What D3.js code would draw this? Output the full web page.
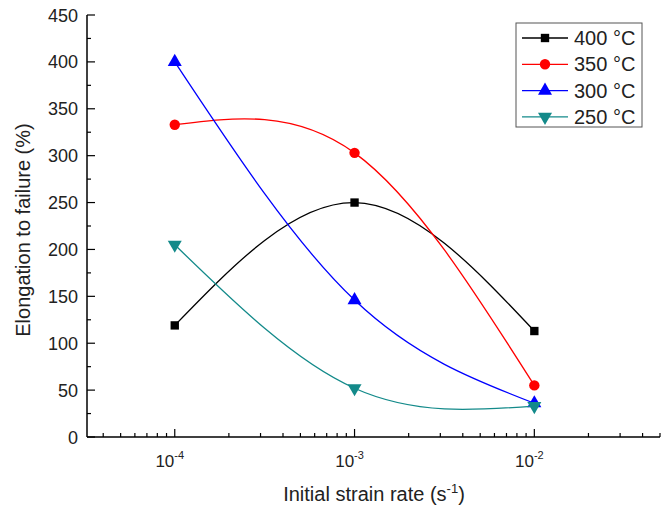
<!DOCTYPE html>
<html>
<head>
<meta charset="utf-8">
<script src="https://cdn.jsdelivr.net/npm/d3@7"></script>
<style>
  body { margin: 0; background: #fff; }
  text { font-family: "Liberation Sans", Arial, sans-serif; fill: #222; }
</style>
</head>
<body>
<script>
// strain rates (s^-1)
var rates = [1e-4, 1e-3, 1e-2];
var temps = ["400 °C", "350 °C", "300 °C", "250 °C"];
var elong400 = [119, 250, 113];
var elong350 = [333, 303, 55];
var elong300 = [400, 146, 36];
var elong250 = [205, 52, 33];
var yTicks = [0, 50, 100, 150, 200, 250, 300, 350, 400, 450];
var xTicks = [1e-4, 1e-3, 1e-2];

var series = [
  {name: temps[0], values: elong400, color: "#000000", symbol: d3.symbolSquare},
  {name: temps[1], values: elong350, color: "#ff0000", symbol: d3.symbolCircle},
  {name: temps[2], values: elong300, color: "#0000ff", symbol: d3.symbolTriangle},
  {name: temps[3], values: elong250, color: "#138a8a", symbol: "down"}
];

var W = 670, H = 508;
var svg = d3.select("body").append("svg").attr("width", W).attr("height", H);

var x = d3.scaleLog().domain([3.25e-5, 5e-2]).range([87, 660]);
var y = d3.scaleLinear().domain([0, 450]).range([437, 15]);

// minor ticks
var minorX = [];
for (var e = -5; e <= -2; e++) {
  for (var k = 2; k < 10; k++) {
    var v = k * Math.pow(10, e);
    if (v >= 3.25e-5 && v <= 5e-2) minorX.push(v);
  }
}
var minorY = d3.range(25, 450, 50);

var g = svg.append("g");

// x axis
g.append("line").attr("x1", 87).attr("x2", 660).attr("y1", y(0)).attr("y2", y(0))
  .attr("stroke", "#000").attr("stroke-width", 1.5);
g.selectAll(".xmin").data(minorX).enter().append("line")
  .attr("x1", function(d) { return x(d); }).attr("x2", function(d) { return x(d); })
  .attr("y1", y(0)).attr("y2", y(0) - 4).attr("stroke", "#000").attr("stroke-width", 1.2);
g.selectAll(".xmaj").data(xTicks).enter().append("line")
  .attr("x1", function(d) { return x(d); }).attr("x2", function(d) { return x(d); })
  .attr("y1", y(0)).attr("y2", y(0) - 8).attr("stroke", "#000").attr("stroke-width", 1.2);
var xl = g.selectAll(".xlab").data(xTicks).enter().append("text")
  .attr("x", function(d) { return x(d) - 5; }).attr("y", 467)
  .attr("text-anchor", "middle").attr("font-size", 17);
xl.append("tspan").text("10");
xl.append("tspan").attr("dy", -8).attr("font-size", 11)
  .text(function(d) { return "-" + Math.round(-Math.log10(d)); });

// y axis
g.append("line").attr("x1", 87).attr("x2", 87).attr("y1", y(0)).attr("y2", y(450))
  .attr("stroke", "#000").attr("stroke-width", 1.5);
g.selectAll(".ymin").data(minorY).enter().append("line")
  .attr("x1", 87).attr("x2", 91)
  .attr("y1", function(d) { return y(d); }).attr("y2", function(d) { return y(d); })
  .attr("stroke", "#000").attr("stroke-width", 1.2);
g.selectAll(".ymaj").data(yTicks).enter().append("line")
  .attr("x1", 87).attr("x2", 95)
  .attr("y1", function(d) { return y(d); }).attr("y2", function(d) { return y(d); })
  .attr("stroke", "#000").attr("stroke-width", 1.2);
g.selectAll(".ylab").data(yTicks).enter().append("text")
  .attr("x", 78).attr("y", function(d) { return y(d) + 6.5; })
  .attr("text-anchor", "end").attr("font-size", 18)
  .text(function(d) { return d; });

// axis titles
var xt = svg.append("text").attr("x", 374).attr("y", 501)
  .attr("text-anchor", "middle").attr("font-size", 20);
xt.append("tspan").text("Initial strain rate (s");
xt.append("tspan").attr("dy", -8).attr("font-size", 13).text("-1");
xt.append("tspan").attr("dy", 8).text(")");

svg.append("text").attr("transform", "translate(30,230) rotate(-90)")
  .attr("text-anchor", "middle").attr("font-size", 20)
  .text("Elongation to failure (%)");

function sym(s) {
  return d3.symbol().type(s.symbol === "down" ? d3.symbolTriangle : s.symbol)
    .size(s.symbol === d3.symbolSquare ? 70 : 85);
}

var line = d3.line()
  .x(function(d, i) { return x(rates[i]); })
  .y(function(d) { return y(d); })
  .curve(d3.curveNatural);

series.forEach(function(s) {
  svg.append("path").attr("d", line(s.values))
    .attr("fill", "none").attr("stroke", s.color).attr("stroke-width", 1.3);
  svg.selectAll(null).data(s.values).enter().append("path")
    .attr("d", sym(s))
    .attr("transform", function(d, i) {
      return "translate(" + x(rates[i]) + "," + y(d) + ")" + (s.symbol === "down" ? " rotate(180)" : "");
    })
    .attr("fill", s.color);
});

// legend
var lg = svg.append("g");
lg.append("rect").attr("x", 516).attr("y", 23).attr("width", 126).attr("height", 104)
  .attr("fill", "#fff").attr("stroke", "#555").attr("stroke-width", 1);
series.forEach(function(s, i) {
  var cy = 38 + i * 26.3;
  lg.append("line").attr("x1", 522).attr("x2", 568).attr("y1", cy).attr("y2", cy)
    .attr("stroke", s.color).attr("stroke-width", 1.3);
  lg.append("path")
    .attr("d", sym(s))
    .attr("transform", "translate(545," + cy + ")" + (s.symbol === "down" ? " rotate(180)" : ""))
    .attr("fill", s.color);
  lg.append("text").attr("x", 574).attr("y", cy + 7).attr("font-size", 20).text(s.name);
});
</script>
</body>
</html>
